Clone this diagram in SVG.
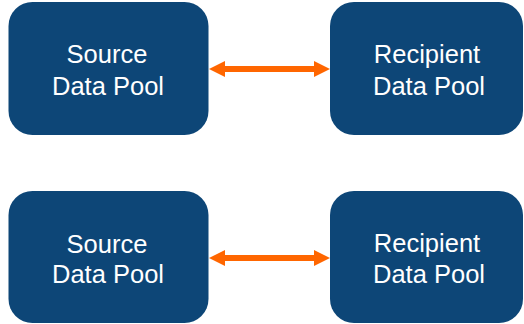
<svg xmlns="http://www.w3.org/2000/svg" width="524" height="324" viewBox="0 0 524 324">
<style>
.box{fill:#0d4677;}
.lbl{font-family:"Liberation Sans",Arial,sans-serif;font-size:25.5px;fill:#ffffff;text-anchor:middle;}
.arr{fill:#ff6600;}
</style>
<rect width="524" height="324" fill="#ffffff"/>
<g id="src1"><rect class="box" x="8.5" y="2" width="200" height="133" rx="24"/>
<text class="lbl" x="107" y="63">Source</text><text class="lbl" x="108" y="95">Data Pool</text></g>
<g id="rec1"><rect class="box" x="330" y="2" width="193" height="133" rx="24"/>
<text class="lbl" x="427" y="63">Recipient</text><text class="lbl" x="429" y="95">Data Pool</text></g>
<g id="src2"><rect class="box" x="8.5" y="191" width="200" height="132" rx="24"/>
<text class="lbl" x="107" y="252.5">Source</text><text class="lbl" x="108" y="282.5">Data Pool</text></g>
<g id="rec2"><rect class="box" x="330" y="191" width="193" height="132" rx="24"/>
<text class="lbl" x="427" y="252">Recipient</text><text class="lbl" x="429" y="282.5">Data Pool</text></g>
<g id="connectors">
<path class="arr" d="M209,69 L225,61 L225,66 L314,66 L314,61 L330,69 L314,77 L314,72 L225,72 L225,77 Z"/>
<path class="arr" d="M209,258 L225,250 L225,255 L314,255 L314,250 L330,258 L314,266 L314,261 L225,261 L225,266 Z"/>
</g>
</svg>
